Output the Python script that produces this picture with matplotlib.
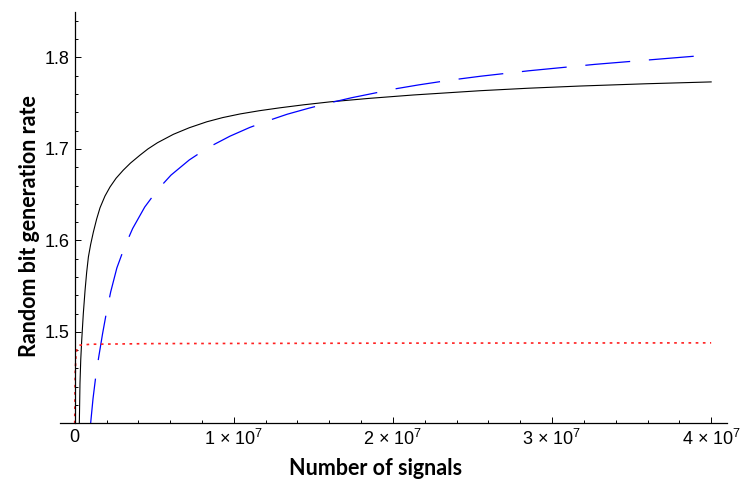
import numpy as np
import matplotlib
matplotlib.use("Agg")
import matplotlib.pyplot as plt
from matplotlib.ticker import FixedLocator, FuncFormatter

plt.rcParams['font.family'] = ['Liberation Sans', 'DejaVu Sans']
plt.rcParams['mathtext.fontset'] = 'custom'
plt.rcParams['mathtext.rm'] = 'Liberation Sans'
plt.rcParams['mathtext.it'] = 'Liberation Sans:italic'

# values, x in units of 1e6 signals
black_x = [0.29, 0.33, 0.38, 0.44, 0.54, 0.65, 0.75, 0.86, 1.0, 1.17, 1.38, 1.59,
           1.9, 2.22, 2.6, 3.05, 3.5, 4.1, 4.6, 5.2, 6.2, 7.2, 8.3, 9.3, 10.4,
           11.6, 12.9, 14.4, 16.05, 18.5, 21.27, 25.5, 28.5, 31.76, 35.95, 40.0]
black_y = [1.400, 1.4436, 1.470, 1.491, 1.520, 1.5455, 1.565, 1.582, 1.5955,
           1.609, 1.6235, 1.6357, 1.6485, 1.6585, 1.668, 1.6768, 1.6845, 1.6932,
           1.700, 1.7068, 1.7160, 1.7232, 1.7297, 1.7343, 1.7383, 1.7418,
           1.7450, 1.7483, 1.7515, 1.7553, 1.7590, 1.7637, 1.7664, 1.7688,
           1.7713, 1.7733]

blue_x = [1.0, 1.15, 1.32, 1.51, 1.75, 1.97, 2.26, 2.65, 3.12, 3.64, 4.4, 5.19,
          6.05, 7.2, 8.36, 9.76, 11.0, 12.17, 13.36, 14.7, 16.05, 17.4, 20.24,
          21.6, 23.5, 25.5, 28.55, 32.7, 36.9, 40.0]
blue_y = [1.400, 1.427, 1.451, 1.4727, 1.498, 1.519, 1.5437, 1.570, 1.5923,
          1.613, 1.6365, 1.655, 1.6714, 1.688, 1.7013, 1.714, 1.7235, 1.731,
          1.738, 1.7445, 1.7505, 1.756, 1.766, 1.770, 1.775, 1.7795, 1.7855,
          1.7925, 1.7985, 1.8029]

red_x = [0.0, 0.03, 0.08, 0.15, 0.33, 1.0, 5.0, 20.0, 40.0]
red_y = [1.400, 1.455, 1.475, 1.482, 1.4855, 1.4865, 1.4872, 1.4877, 1.488]

x_major = [0, 1e7, 2e7, 3e7, 4e7]
y_major = [1.5, 1.6, 1.7, 1.8]


def xfmt(v, pos):
    if v == 0:
        return '0'
    return '%d \u00d7 10$^{7}$' % round(v / 1e7)


fig = plt.figure(figsize=(7.55, 4.9), dpi=100)
ax = fig.add_axes([0.080, 0.136, 0.883, 0.840])

ax.plot(np.array(black_x) * 1e6, black_y, color='black', lw=0.8)
ax.plot(np.array(blue_x) * 1e6, blue_y, color='#0000ff', lw=0.9,
        linestyle=(0, (36, 15)))
ax.plot(np.array(red_x) * 1e6, red_y, color='#ff2020', lw=1.2,
        linestyle=(0, (1.6, 2.7)))

ax.set_xlim(-0.09e7, 4.1e7)
ax.set_ylim(1.4, 1.85)

for s in ['top', 'right']:
    ax.spines[s].set_visible(False)
ax.spines['left'].set_position(('data', 0))
ax.spines['left'].set_linewidth(0.9)
ax.spines['bottom'].set_linewidth(0.9)

ax.xaxis.set_major_locator(FixedLocator(x_major))
ax.xaxis.set_minor_locator(FixedLocator(np.arange(0, 4.01e7, 2e6)))
ax.xaxis.set_major_formatter(FuncFormatter(xfmt))
ax.yaxis.set_major_locator(FixedLocator(y_major))
ax.yaxis.set_minor_locator(FixedLocator(np.arange(1.42, 1.85, 0.02)))

ax.tick_params(which='both', direction='in', labelsize=13, width=0.7)
ax.tick_params(which='major', length=4.5, pad=4)
ax.tick_params(which='minor', length=2.5)

ax.set_xlabel('Number of signals', family=['Lato', 'DejaVu Sans'],
              fontweight='bold', fontsize=15.5)
ax.set_ylabel('Random bit generation rate', family=['Lato', 'DejaVu Sans'],
              fontweight='bold', fontsize=15.5)
ax.xaxis.set_label_coords(0.472, -0.083)
ax.yaxis.set_label_coords(-0.03, 0.48)

fig.savefig('out.png', dpi=100)
